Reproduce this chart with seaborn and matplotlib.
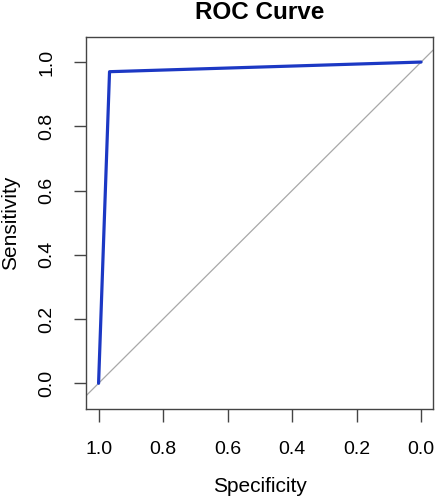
import matplotlib
matplotlib.use("Agg")
import matplotlib.pyplot as plt
import seaborn as sns
import pandas as pd

# Data
specificity = [1.0, 0.966, 0.0]
sensitivity = [0.0, 0.970, 1.0]
diag_x = [1.0, 0.0]
diag_y = [0.0, 1.0]
x_ticks = [1.0, 0.8, 0.6, 0.4, 0.2, 0.0]
y_ticks = [0.0, 0.2, 0.4, 0.6, 0.8, 1.0]

sns.set_style("white")
plt.rcParams['font.family'] = ['Liberation Sans', 'DejaVu Sans']
plt.rcParams['text.color'] = 'black'
plt.rcParams['axes.labelcolor'] = 'black'
plt.rcParams['xtick.color'] = 'black'
plt.rcParams['ytick.color'] = 'black'

fig = plt.figure(figsize=(4.37, 5.0), dpi=100)
ax = fig.add_axes([86/437, 91/500, 347/437, 372/500])

# diagonal reference
ax.axline((diag_x[0], diag_y[0]), (diag_x[1], diag_y[1]), color='#a8a8a8', lw=0.9, zorder=1)

df = pd.DataFrame({'Specificity': specificity, 'Sensitivity': sensitivity})
sns.lineplot(data=df, x='Specificity', y='Sensitivity', sort=False, estimator=None,
             color='#1c38c4', lw=2.3, ax=ax, zorder=2)

ax.set_xlim(1.039, -0.037)
ax.set_ylim(-0.080, 1.078)
ax.set_xticks(x_ticks)
ax.set_yticks(y_ticks)
ax.set_xticklabels([f"{v:.1f}" for v in x_ticks])
ax.set_yticklabels([f"{v:.1f}" for v in y_ticks], rotation=90, va='center')

for s in ax.spines.values():
    s.set_visible(True)
    s.set_color('#444444')
    s.set_linewidth(1.0)

ax.tick_params(axis='both', which='major', direction='out', length=9, width=1.0,
               color='#444444', labelsize=14, labelcolor='black', bottom=True, left=True)
ax.tick_params(axis='x', pad=14)
ax.tick_params(axis='y', pad=13)

ax.set_xlabel('Specificity', fontsize=15, labelpad=14, color='black')
ax.set_ylabel('Sensitivity', fontsize=15, labelpad=13, color='black')
ax.set_title('ROC Curve', fontsize=17.5, fontweight='bold', pad=13, color='black')

fig.savefig('out.png', dpi=100)
